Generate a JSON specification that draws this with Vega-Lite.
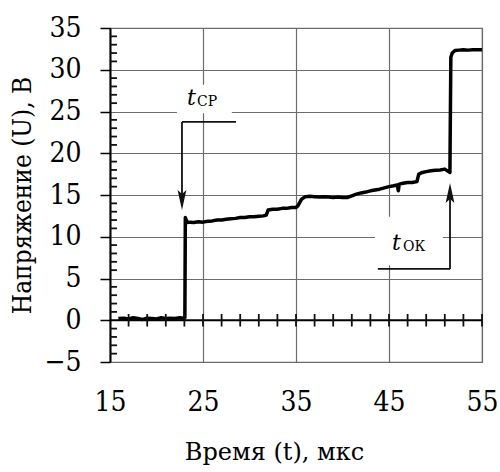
{
  "$schema": "https://vega.github.io/schema/vega-lite/v6.json",
  "autosize": {"type": "none"},
  "padding": {"left": 110, "top": 28, "right": 18, "bottom": 110},
  "width": 372,
  "height": 334,
  "background": "white",
  "config": {
    "view": {"stroke": "#6b6b6b", "strokeWidth": 1.2},
    "font": "DejaVu Serif Condensed"
  },
  "datasets": {
    "trace": [
      {"t": 15.9, "u": 0.2}, {"t": 16.5, "u": 0.25}, {"t": 17, "u": 0.15}, {"t": 17.5, "u": 0.3},
      {"t": 18, "u": 0.2}, {"t": 18.5, "u": 0.1}, {"t": 19, "u": 0.25}, {"t": 19.5, "u": 0.2},
      {"t": 20, "u": 0.15}, {"t": 20.5, "u": 0.3}, {"t": 21, "u": 0.2}, {"t": 21.5, "u": 0.25},
      {"t": 22, "u": 0.2}, {"t": 22.5, "u": 0.3}, {"t": 22.9, "u": 0.25}, {"t": 23.05, "u": 0.3},
      {"t": 23.1, "u": 12.3}, {"t": 23.3, "u": 11.7}, {"t": 23.6, "u": 11.75}, {"t": 24, "u": 11.7},
      {"t": 24.5, "u": 11.8}, {"t": 25, "u": 11.75}, {"t": 25.5, "u": 11.85}, {"t": 26, "u": 11.9},
      {"t": 26.5, "u": 12.0}, {"t": 27, "u": 12.0}, {"t": 27.5, "u": 12.1}, {"t": 28, "u": 12.15},
      {"t": 28.5, "u": 12.2}, {"t": 29, "u": 12.3}, {"t": 29.5, "u": 12.3}, {"t": 30, "u": 12.4},
      {"t": 30.5, "u": 12.4}, {"t": 31, "u": 12.45}, {"t": 31.5, "u": 12.5}, {"t": 31.8, "u": 12.6},
      {"t": 32.0, "u": 13.2}, {"t": 32.5, "u": 13.3}, {"t": 33, "u": 13.3}, {"t": 33.5, "u": 13.4},
      {"t": 34, "u": 13.4}, {"t": 34.5, "u": 13.5}, {"t": 35.0, "u": 13.5}, {"t": 35.2, "u": 13.7},
      {"t": 35.6, "u": 14.5}, {"t": 36, "u": 14.8}, {"t": 36.5, "u": 14.85}, {"t": 37, "u": 14.8},
      {"t": 37.5, "u": 14.75}, {"t": 38, "u": 14.8}, {"t": 38.5, "u": 14.75}, {"t": 39, "u": 14.7},
      {"t": 39.5, "u": 14.75}, {"t": 40, "u": 14.7}, {"t": 40.5, "u": 14.7}, {"t": 41, "u": 14.9},
      {"t": 41.5, "u": 15.1}, {"t": 42, "u": 15.25}, {"t": 42.5, "u": 15.35}, {"t": 43, "u": 15.5},
      {"t": 43.5, "u": 15.6}, {"t": 44, "u": 15.7}, {"t": 44.5, "u": 15.85}, {"t": 45, "u": 16.0},
      {"t": 45.5, "u": 16.1}, {"t": 45.9, "u": 16.2}, {"t": 46.0, "u": 15.5}, {"t": 46.1, "u": 16.3},
      {"t": 46.5, "u": 16.4}, {"t": 47, "u": 16.5}, {"t": 47.5, "u": 16.5}, {"t": 48.0, "u": 16.6},
      {"t": 48.2, "u": 17.5}, {"t": 48.6, "u": 17.7}, {"t": 49, "u": 17.8}, {"t": 49.5, "u": 17.9},
      {"t": 50, "u": 17.95}, {"t": 50.5, "u": 18.0}, {"t": 51, "u": 18.1}, {"t": 51.4, "u": 17.8},
      {"t": 51.55, "u": 17.7}, {"t": 51.65, "u": 31.5}, {"t": 51.8, "u": 32.0}, {"t": 52.1, "u": 32.3},
      {"t": 52.5, "u": 32.35}, {"t": 53, "u": 32.4}, {"t": 53.5, "u": 32.35}, {"t": 54, "u": 32.4},
      {"t": 54.5, "u": 32.4}, {"t": 55, "u": 32.4}
    ],
    "boxes": [
      {"x1": 22.2, "x2": 28.1, "y1": 24.8, "y2": 28.2},
      {"x1": 43.5, "x2": 50.8, "y1": 6.6, "y2": 12.4}
    ],
    "leaders": [
      {"x1": 22.74, "y1": 23.75, "x2": 28.55, "y2": 23.75},
      {"x1": 22.74, "y1": 23.75, "x2": 22.74, "y2": 14.5},
      {"x1": 43.8, "y1": 6.15, "x2": 51.56, "y2": 6.15},
      {"x1": 51.56, "y1": 6.15, "x2": 51.56, "y2": 15.0},
      {"x1": 17, "y1": -0.75, "x2": 17, "y2": 0.75}, {"x1": 19, "y1": -0.75, "x2": 19, "y2": 0.75},
      {"x1": 21, "y1": -0.75, "x2": 21, "y2": 0.75}, {"x1": 23, "y1": -0.75, "x2": 23, "y2": 0.75},
      {"x1": 25, "y1": -0.75, "x2": 25, "y2": 0.75}, {"x1": 27, "y1": -0.75, "x2": 27, "y2": 0.75},
      {"x1": 29, "y1": -0.75, "x2": 29, "y2": 0.75}, {"x1": 31, "y1": -0.75, "x2": 31, "y2": 0.75},
      {"x1": 33, "y1": -0.75, "x2": 33, "y2": 0.75}, {"x1": 35, "y1": -0.75, "x2": 35, "y2": 0.75},
      {"x1": 37, "y1": -0.75, "x2": 37, "y2": 0.75}, {"x1": 39, "y1": -0.75, "x2": 39, "y2": 0.75},
      {"x1": 41, "y1": -0.75, "x2": 41, "y2": 0.75}, {"x1": 43, "y1": -0.75, "x2": 43, "y2": 0.75},
      {"x1": 45, "y1": -0.75, "x2": 45, "y2": 0.75}, {"x1": 47, "y1": -0.75, "x2": 47, "y2": 0.75},
      {"x1": 49, "y1": -0.75, "x2": 49, "y2": 0.75}, {"x1": 51, "y1": -0.75, "x2": 51, "y2": 0.75},
      {"x1": 53, "y1": -0.75, "x2": 53, "y2": 0.75}, {"x1": 55, "y1": -0.75, "x2": 55, "y2": 0.75},
      {"x1": 15, "y1": -4, "x2": 15.75, "y2": -4}, {"x1": 15, "y1": -3, "x2": 15.75, "y2": -3},
      {"x1": 15, "y1": -2, "x2": 15.75, "y2": -2}, {"x1": 15, "y1": -1, "x2": 15.75, "y2": -1},
      {"x1": 15, "y1": 1, "x2": 15.75, "y2": 1}, {"x1": 15, "y1": 2, "x2": 15.75, "y2": 2},
      {"x1": 15, "y1": 3, "x2": 15.75, "y2": 3}, {"x1": 15, "y1": 4, "x2": 15.75, "y2": 4},
      {"x1": 15, "y1": 6, "x2": 15.75, "y2": 6}, {"x1": 15, "y1": 7, "x2": 15.75, "y2": 7},
      {"x1": 15, "y1": 8, "x2": 15.75, "y2": 8}, {"x1": 15, "y1": 9, "x2": 15.75, "y2": 9},
      {"x1": 15, "y1": 11, "x2": 15.75, "y2": 11}, {"x1": 15, "y1": 12, "x2": 15.75, "y2": 12},
      {"x1": 15, "y1": 13, "x2": 15.75, "y2": 13}, {"x1": 15, "y1": 14, "x2": 15.75, "y2": 14},
      {"x1": 15, "y1": 16, "x2": 15.75, "y2": 16}, {"x1": 15, "y1": 17, "x2": 15.75, "y2": 17},
      {"x1": 15, "y1": 18, "x2": 15.75, "y2": 18}, {"x1": 15, "y1": 19, "x2": 15.75, "y2": 19},
      {"x1": 15, "y1": 21, "x2": 15.75, "y2": 21}, {"x1": 15, "y1": 22, "x2": 15.75, "y2": 22},
      {"x1": 15, "y1": 23, "x2": 15.75, "y2": 23}, {"x1": 15, "y1": 24, "x2": 15.75, "y2": 24},
      {"x1": 15, "y1": 26, "x2": 15.75, "y2": 26}, {"x1": 15, "y1": 27, "x2": 15.75, "y2": 27},
      {"x1": 15, "y1": 28, "x2": 15.75, "y2": 28}, {"x1": 15, "y1": 29, "x2": 15.75, "y2": 29},
      {"x1": 15, "y1": 31, "x2": 15.75, "y2": 31}, {"x1": 15, "y1": 32, "x2": 15.75, "y2": 32},
      {"x1": 15, "y1": 33, "x2": 15.75, "y2": 33}, {"x1": 15, "y1": 34, "x2": 15.75, "y2": 34}
    ],
    "down": [{"x": 22.74, "y": 13.2}],
    "up": [{"x": 51.56, "y": 16.45}],
    "tlab": [
      {"x": 23.28, "y": 25.78, "s": "t"},
      {"x": 45.32, "y": 8.42, "s": "t"}
    ],
    "sublab": [
      {"x": 24.35, "y": 25.7, "s": "СР"},
      {"x": 46.5, "y": 8.35, "s": "ОК"}
    ]
  },
  "layer": [
    {
      "data": {"name": "trace"},
      "mark": {"type": "line", "color": "black", "strokeWidth": 3.5, "strokeJoin": "round", "clip": true},
      "encoding": {
        "x": {
          "field": "t", "type": "quantitative",
          "scale": {"domain": [15, 55], "nice": false, "zero": false},
          "axis": {
            "title": "Время (t), мкс",
            "values": [15, 25, 35, 45, 55],
            "domain": false, "ticks": false,
            "labelFont": "DejaVu Serif Condensed", "labelFontSize": 28, "labelColor": "black",
            "labelPadding": 26, "labelFlush": false, "labelOverlap": false,
            "grid": true, "gridColor": "#6b6b6b", "gridWidth": 1.2, "gridOpacity": 1,
            "titleFont": "DejaVu Serif", "titleFontSize": 24, "titleFontWeight": "normal",
            "titleColor": "black", "titlePadding": 24, "titleX": 164
          }
        },
        "y": {
          "field": "u", "type": "quantitative",
          "scale": {"domain": [-5, 35], "nice": false, "zero": false},
          "axis": {
            "title": "Напряжение (U), В",
            "values": [-5, 0, 5, 10, 15, 20, 25, 30, 35],
            "domain": true, "domainColor": "black", "domainWidth": 2,
            "ticks": true, "tickColor": "black", "tickSize": 10, "tickWidth": 1.5,
            "labelFont": "DejaVu Serif Condensed", "labelFontSize": 28, "labelColor": "black",
            "labelPadding": 19, "labelFlush": false, "labelOverlap": false,
            "grid": true, "gridColor": "#6b6b6b", "gridWidth": 1.2, "gridOpacity": 1,
            "titleFont": "DejaVu Serif Condensed", "titleFontSize": 26, "titleFontWeight": "normal",
            "titleColor": "black", "titlePadding": 8
          }
        }
      }
    },
    {
      "data": {"name": "boxes"},
      "mark": {"type": "rect", "fill": "white"},
      "encoding": {
        "x": {"field": "x1", "type": "quantitative"},
        "x2": {"field": "x2"},
        "y": {"field": "y1", "type": "quantitative"},
        "y2": {"field": "y2"}
      }
    },
    {
      "data": {"values": [{"u": 0}]},
      "mark": {"type": "rule", "color": "black", "strokeWidth": 2},
      "encoding": {"y": {"field": "u", "type": "quantitative"}}
    },
    {
      "data": {"name": "leaders"},
      "mark": {"type": "rule", "color": "#111111", "strokeWidth": 1.8},
      "encoding": {
        "x": {"field": "x1", "type": "quantitative"},
        "y": {"field": "y1", "type": "quantitative"},
        "x2": {"field": "x2"},
        "y2": {"field": "y2"}
      }
    },
    {
      "data": {"name": "down"},
      "mark": {"type": "point", "shape": "M0,0 L-0.22,-1 L0,-0.8 L0.22,-1 Z", "filled": true, "size": 1600, "color": "#111111", "opacity": 1},
      "encoding": {
        "x": {"field": "x", "type": "quantitative"},
        "y": {"field": "y", "type": "quantitative"}
      }
    },
    {
      "data": {"name": "up"},
      "mark": {"type": "point", "shape": "M0,0 L-0.22,1 L0,0.8 L0.22,1 Z", "filled": true, "size": 1600, "color": "#111111", "opacity": 1},
      "encoding": {
        "x": {"field": "x", "type": "quantitative"},
        "y": {"field": "y", "type": "quantitative"}
      }
    },
    {
      "data": {"name": "tlab"},
      "mark": {"type": "text", "font": "DejaVu Serif", "fontStyle": "italic", "fontSize": 22, "align": "left", "baseline": "alphabetic", "color": "black"},
      "encoding": {
        "x": {"field": "x", "type": "quantitative"},
        "y": {"field": "y", "type": "quantitative"},
        "text": {"field": "s"}
      }
    },
    {
      "data": {"name": "sublab"},
      "mark": {"type": "text", "font": "DejaVu Serif", "fontSize": 14, "align": "left", "baseline": "alphabetic", "color": "black"},
      "encoding": {
        "x": {"field": "x", "type": "quantitative"},
        "y": {"field": "y", "type": "quantitative"},
        "text": {"field": "s"}
      }
    }
  ]
}
